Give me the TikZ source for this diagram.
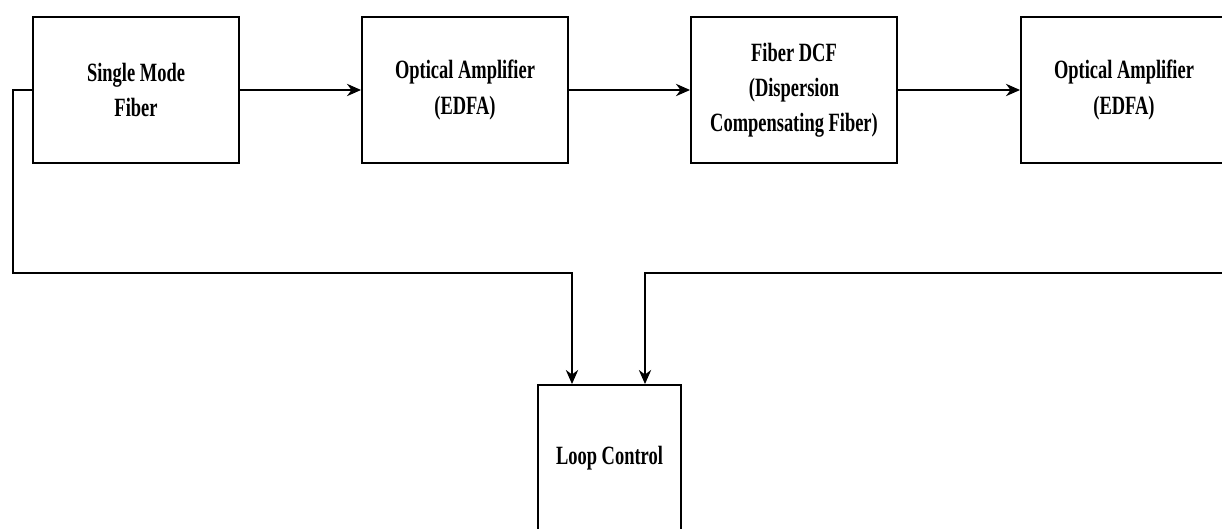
\documentclass[tikz,border=0pt]{standalone}
\usepackage{fontspec}
\setmainfont{Liberation Serif}[FakeStretch=0.7]
\usetikzlibrary{arrows.meta}
\begin{document}
\begin{tikzpicture}[
		block/.style={draw, line width=1.1pt, minimum width=4.12cm, minimum height=2.92cm,
			align=center, font=\bfseries\fontsize{15}{20}\selectfont},
		flow/.style={line width=1pt, -{Stealth[length=8pt,width=7pt]}}]
		\useasboundingbox (0,0) rectangle (24.44,10.56);
		\clip (0,0) rectangle (24.44,10.56);
		% forward chain
		\node [block] (smf) at (2.72,8.76) {Single Mode\\Fiber};
		\node [block] (amp1) at (9.30,8.76) {Optical Amplifier\\(EDFA)};
		\node [block] (dcf) at (15.88,8.76) {Fiber DCF\\(Dispersion\\Compensating Fiber)};
		\node [block] (amp2) at (22.48,8.76) {Optical Amplifier\\(EDFA)};
		\draw [flow] (smf) -- (amp1);
		\draw [flow] (amp1) -- (dcf);
		\draw [flow] (dcf) -- (amp2);
		% loop control and its two feeds
		\node [block, minimum width=2.86cm] (ctrl) at (12.19,1.40) {Loop Control};
		\coordinate (lturn) at (0.26,5.10);
		\coordinate (rturn) at (24.90,5.10);
		\draw [flow] (smf.west) -| (lturn) -| ([xshift=-0.75cm]ctrl.north);
		\draw [flow] (amp2.east) -| (rturn) -| ([xshift=0.71cm]ctrl.north);
	\end{tikzpicture}
\end{document}
